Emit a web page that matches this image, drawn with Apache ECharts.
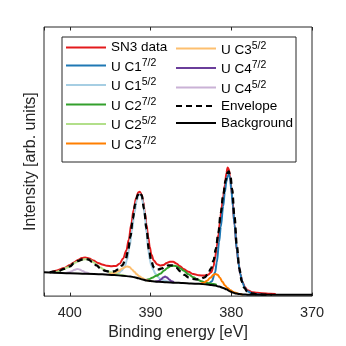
<!DOCTYPE html>
<html>
<head>
<meta charset="utf-8">
<script src="https://cdn.jsdelivr.net/npm/echarts@6/dist/echarts.min.js"></script>
<style>
  html, body { margin: 0; padding: 0; background: #fff; }
  #main { width: 346px; height: 346px; }
</style>
</head>
<body>
<div id="main"></div>
<script>
// U 4f spectrum, [binding energy (eV), intensity (arb.)]
const snData = [[402.2,24.5],[401.6,26],[400.7,28.5],[400,31.5],[399.5,34],[399,36.5],[398.5,38.5],[398.1,39],[397.6,38],[397.1,36],[396.5,33.5],[396,32],[395.4,30.7],[394.8,30.2],[394.3,30.5],[393.8,33],[393.4,38],[393,46],[392.7,57],[392.4,72],[392.1,87],[391.8,99],[391.5,105],[391.35,105.5],[391.1,102.5],[390.9,95],[390.7,84],[390.5,72],[390.3,60],[390.1,50],[389.9,42],[389.6,36],[389.2,32.3],[388.8,31],[388.4,31.5],[388,33.5],[387.6,34.7],[387.2,34.7],[386.8,33],[386.4,30.5],[385.9,27.3],[385.3,24.5],[384.7,22.3],[384,21],[383.4,20.7],[382.9,21.5],[382.5,24],[382.2,30],[382,39],[381.8,50],[381.6,62],[381.4,75],[381.2,89],[381,101],[380.8,112],[380.6,124.5],[380.45,130],[380.3,128],[380.15,121],[379.9,102],[379.6,72],[379.3,46],[379.1,33],[378.9,22.5],[378.6,14],[378.3,9],[378,6],[377.4,4],[376.8,3.3],[376.2,3],[375.2,2.3],[374.5,2]];

const uc1a = [[383.2,12.1],[382.8,12.6],[382.4,15],[382,24],[381.8,34],[381.5,55],[381.3,70],[381,91],[380.8,105],[380.6,116],[380.45,121.5],[380.3,123],[380.15,119],[380,108],[379.8,91],[379.6,72],[379.3,46],[379.1,33],[378.9,22.5],[378.6,13.5],[378.3,8],[378,5],[377.5,3],[377,2],[376.5,1.6],[376,1.4]];
const uc1b = [[394.5,21.5],[394,23],[393.6,25.5],[393.2,30],[392.9,37],[392.6,50],[392.3,66],[392,84],[391.7,97],[391.45,102.5],[391.3,103],[391.1,100],[390.9,93],[390.7,80],[390.5,64],[390.3,48],[390.1,37],[389.9,31],[389.65,26.5],[389.4,22.5],[389.1,19.5],[388.8,17.5],[388.4,16],[388,15],[387.5,14.3]];
const uc2a = [[390.6,16],[390.2,17],[389.8,18.5],[389.3,20.5],[388.8,22.5],[388.3,26],[387.9,28.5],[387.5,30.3],[387.1,30.7],[386.7,30],[386.3,28],[385.9,25.7],[385.3,22],[384.7,19],[384.2,16.8],[383.7,15],[383.2,13.8],[382.7,13],[382.2,12.2],[381.8,11.2]];
const uc2b = [[402,23.8],[401.6,24.7],[401,26.5],[400.3,29],[399.8,31.5],[399.3,34],[398.8,36],[398.3,37],[397.9,37.3],[397.5,36.5],[397,34],[396.6,31],[396.2,29],[395.8,27],[395.4,25.5],[394.9,24],[394.4,22.8],[393.9,21.8],[393.4,21],[393,20.4]];
const uc3a = [[383.8,12.5],[383.4,13.5],[383,15.5],[382.6,18.5],[382.2,21.5],[381.95,22.3],[381.7,21.5],[381.4,18.5],[381.1,14.5],[380.8,11],[380.5,8.5],[380.1,6],[379.7,4],[379.3,2.8],[379,2.1],[378.6,1.7]];
const uc3b = [[395.2,22],[394.6,23],[394,25],[393.5,27.8],[393.1,29.5],[392.9,30],[392.6,29.3],[392.3,27],[392,24.5],[391.7,22],[391.4,20],[391,18],[390.6,16.5],[390.2,15.6],[389.8,15.1]];
const uc4a = [[389.4,14.8],[389,15.3],[388.7,16.8],[388.45,18.8],[388.2,19.7],[387.95,18.8],[387.7,16.8],[387.4,15],[387.1,14.1]];
const uc4b = [[400.5,23.5],[400.1,24],[399.8,25],[399.4,26.7],[399.1,27.5],[398.8,27],[398.4,25.3],[398,23.8],[397.6,23]];

const envelope = [[402.5,24],[401.5,25],[400.7,27.5],[400,30],[399.5,33],[399,35.5],[398.5,37],[398.1,37.5],[397.7,37],[397.2,34.5],[396.7,31],[396.2,28],[395.6,25.5],[395,24.5],[394.5,25],[394,27],[393.5,31],[393.1,37],[392.8,45],[392.5,60],[392.2,78],[391.9,93],[391.6,102],[391.35,105],[391.1,102],[390.8,88],[390.5,68],[390.2,47],[389.9,35],[389.6,29],[389.3,27],[389,27],[388.6,28],[388.2,30],[387.8,31],[387.3,31],[386.8,28.5],[386.3,25],[385.8,21.5],[385.3,19],[384.8,17.5],[384.3,17],[383.8,17.5],[383.3,19],[382.9,22],[382.5,28],[382.2,36],[381.9,48],[381.6,64],[381.3,84],[381,102],[380.7,117],[380.45,125],[380.3,126],[380.1,121],[379.9,108],[379.6,80],[379.3,50],[379,28],[378.7,15],[378.4,8.5],[378,4.5],[377.5,2.8],[377,2],[376,1.5],[375,1.3]];
const background = [[403.2,24],[402,23.6],[400,23.2],[398,22.6],[396,22],[394.5,21.3],[393.5,20.6],[392.5,19.8],[392,19],[391.5,18],[391,16.8],[390.5,15.8],[390,15.2],[389,14.5],[388,14],[387,13.6],[386,13.2],[385,12.8],[384,12.4],[383,11.8],[382.5,11.3],[382,10.6],[381.5,9.6],[381,8.3],[380.6,6.8],[380.2,5],[379.8,3.6],[379.4,2.6],[379,2],[378.5,1.6],[378,1.4],[377,1.3],[370,1.3]];

const xTicks = [370, 380, 390, 400];

const FONT = 'Liberation Sans, Arial, Helvetica, sans-serif';
const AX = '#262626';

const chart = echarts.init(document.getElementById('main'), null, { renderer: 'canvas' });

function line(name, data, color, extra) {
  return Object.assign({
    name: name,
    type: 'line',
    data: data,
    symbol: 'none',
    smooth: 0.35,
    smoothMonotone: 'x',
    lineStyle: { color: color, width: 2 },
    itemStyle: { color: color },
    animation: false
  }, extra || {});
}

// legend text: "U C1 7/2" -> U C1 with superscript 7/2
function legendText(name) {
  const p = name.split(' ');
  if (p.length === 3) return '{a|' + p[0] + ' ' + p[1] + '}{s|' + p[2] + '}';
  return '{p|' + name + '}';
}

const legendBase = {
  orient: 'vertical',
  top: 40.5,
  padding: 0,
  itemWidth: 40,
  itemHeight: 16.5,
  itemGap: 3,
  selectedMode: false,
  itemStyle: { opacity: 0 },
  formatter: legendText,
  textStyle: {
    color: '#000',
    fontFamily: FONT,
    rich: {
      p: { fontSize: 13.5, fontFamily: FONT, color: '#000' },
      a: { fontSize: 13.5, fontFamily: FONT, color: '#000', padding: [3, 0, 0, 0] },
      s: { fontSize: 10.5, fontFamily: FONT, color: '#000', padding: [0, 0, 5, 0] }
    }
  }
};

const option = {
  animation: false,
  grid: { left: 44, right: 34, top: 27, bottom: 47, show: true, borderColor: AX, borderWidth: 1 },
  graphic: [{
    type: 'rect', z: 3,
    shape: { x: 62, y: 37, width: 234, height: 125 },
    style: { fill: '#fff', stroke: AX, lineWidth: 1 }
  }],
  legend: [
    Object.assign({}, legendBase, { left: 65, data: ['SN3 data', 'U C1 7/2', 'U C1 5/2', 'U C2 7/2', 'U C2 5/2', 'U C3 7/2'] }),
    Object.assign({}, legendBase, { left: 175, data: ['U C3 5/2', 'U C4 7/2', 'U C4 5/2', 'Envelope', 'Background'] })
  ],
  xAxis: [{
    type: 'value', inverse: true, min: 370, max: 403.2, interval: 10,
    name: 'Binding energy [eV]', nameLocation: 'middle', nameGap: 27,
    nameTextStyle: { fontFamily: FONT, fontSize: 16, color: AX },
    axisLine: { show: false },
    axisTick: { inside: true, length: 3.5, lineStyle: { color: AX } },
    axisLabel: {
      margin: 9, fontFamily: FONT, fontSize: 14.5, color: AX,
      formatter: function (v) { return xTicks.indexOf(v) > -1 ? String(v) : ''; }
    },
    splitLine: { show: false }
  }, {
    type: 'value', position: 'top', inverse: true, min: 370, max: 403.2, interval: 10,
    axisLine: { show: false },
    axisTick: { inside: true, length: 3.5, lineStyle: { color: AX } },
    axisLabel: { show: false },
    splitLine: { show: false }
  }],
  yAxis: {
    type: 'value', min: 0, max: 272,
    name: 'Intensity [arb. units]', nameLocation: 'middle', nameGap: 5,
    nameTextStyle: { fontFamily: FONT, fontSize: 16, color: AX },
    axisLine: { show: false }, axisTick: { show: false }, axisLabel: { show: false },
    splitLine: { show: false }
  },
  series: [
    line('SN3 data', snData, '#e31a1c'),
    line('U C1 7/2', uc1a, '#1f78b4'),
    line('U C1 5/2', uc1b, '#a6cee3'),
    line('U C2 7/2', uc2a, '#33a02c'),
    line('U C2 5/2', uc2b, '#b2df8a'),
    line('U C3 7/2', uc3a, '#ff7f00'),
    line('U C3 5/2', uc3b, '#fdbf6f'),
    line('U C4 7/2', uc4a, '#6a3d9a'),
    line('U C4 5/2', uc4b, '#cab2d6'),
    line('Envelope', envelope, '#000', { lineStyle: { color: '#000', width: 2.3, type: [6, 4] } }),
    line('Background', background, '#000', { lineStyle: { color: '#000', width: 2 } })
  ]
};

chart.setOption(option);
</script>
</body>
</html>
